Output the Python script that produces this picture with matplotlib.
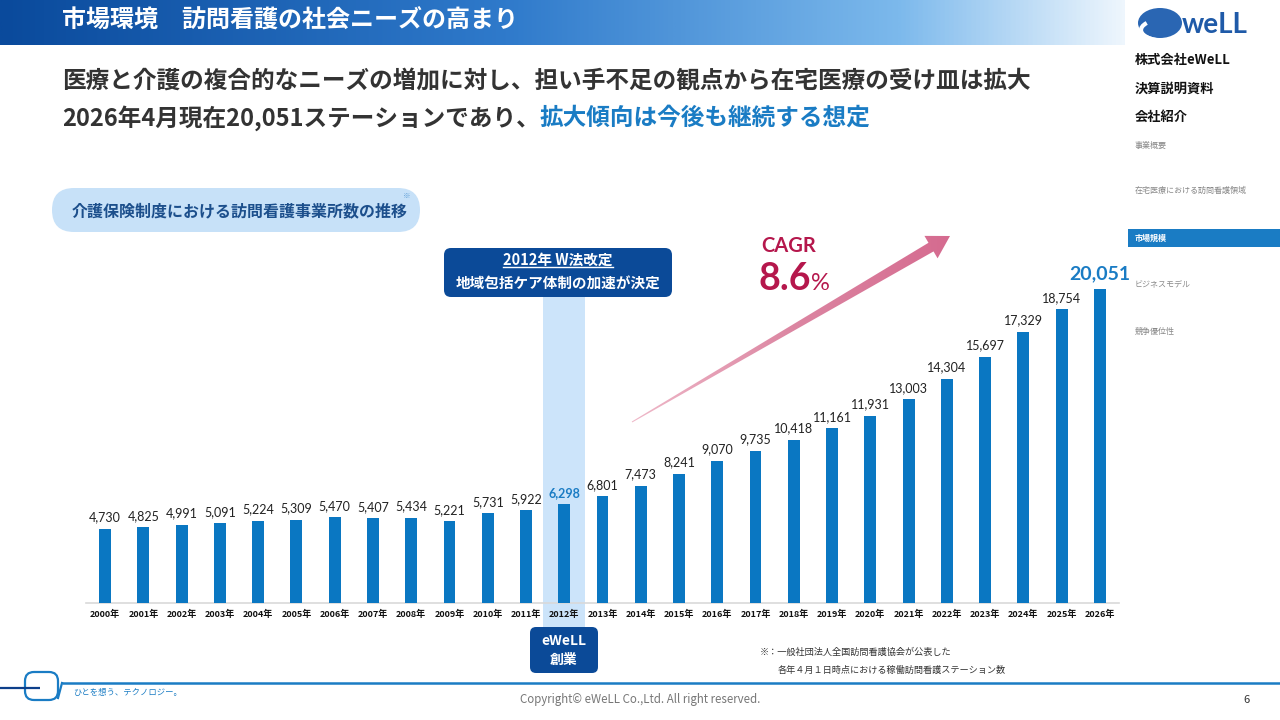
import matplotlib
matplotlib.use('Agg')
import matplotlib.pyplot as plt
import numpy as np
from matplotlib.patches import FancyBboxPatch, Rectangle, Polygon, Ellipse, Arc
from matplotlib.colors import LinearSegmentedColormap

plt.rcParams['font.family'] = ['Noto Sans CJK JP', 'DejaVu Sans']

# ---------------- data ----------------
years = ['2000年', '2001年', '2002年', '2003年', '2004年', '2005年', '2006年',
         '2007年', '2008年', '2009年', '2010年', '2011年', '2012年', '2013年',
         '2014年', '2015年', '2016年', '2017年', '2018年', '2019年', '2020年',
         '2021年', '2022年', '2023年', '2024年', '2025年', '2026年']
stations = [4730, 4825, 4991, 5091, 5224, 5309, 5470, 5407, 5434, 5221, 5731,
            5922, 6298, 6801, 7473, 8241, 9070, 9735, 10418, 11161, 11931,
            13003, 14304, 15697, 17329, 18754, 20051]
highlight_year = '2012年'
latest_year = '2026年'

title = '市場環境　訪問看護の社会ニーズの高まり'
sub1 = '医療と介護の複合的なニーズの増加に対し、担い手不足の観点から在宅医療の受け皿は拡大'
sub2a = '2026年4月現在20,051ステーションであり、'
sub2b = '拡大傾向は今後も継続する想定'
pill_text = '介護保険制度における訪問看護事業所数の推移'
event_l1 = '2012年 W法改定'
event_l2 = '地域包括ケア体制の加速が決定'
found_l1 = 'eWeLL'
found_l2 = '創業'
cagr_label = 'CAGR'
cagr_value = '8.6'
note1 = '※：一般社団法人全国訪問看護協会が公表した'
note2 = '各年４月１日時点における稼働訪問看護ステーション数'
side_main = ['株式会社eWeLL', '決算説明資料', '会社紹介']
side_items = ['事業概要', '在宅医療における訪問看護領域', '市場規模', 'ビジネスモデル', '競争優位性']
side_active = '市場規模'
copyright_text = 'Copyright© eWeLL Co.,Ltd. All right reserved.'
slogan = 'ひとを想う、テクノロジー。'
page_no = '6'

BLUE = '#0a77c2'
LBLUE = '#1a7cc4'
NAVY = '#0b4a98'
CRIMSON = '#b5174c'

fig = plt.figure(figsize=(12.8, 7.2), dpi=100)
fig.patch.set_facecolor('white')
renderer = fig.canvas.get_renderer()

# background overlay in pixel coordinates
bg = fig.add_axes([0, 0, 1, 1], zorder=0)
bg.axis('off')

cmap_h = LinearSegmentedColormap.from_list(
    'h', [(0, '#0a4a9c'), (0.45, '#2f7acb'), (0.8, '#7cb9ec'), (1, '#eef6fd')])
grad = np.linspace(0, 1, 512).reshape(1, -1)
bg.imshow(grad, extent=(0, 1125, 45, 0), cmap=cmap_h, aspect='auto', zorder=1)
bg.set_xlim(0, 1280)
bg.set_ylim(720, 0)

bg.text(62, 21, title, color='white', fontsize=17.3, fontweight='bold',
        va='center', ha='left', zorder=2)
bg.text(62, 80, sub1, color='#333333', fontsize=17, fontweight='bold',
        va='center', ha='left')
t1 = bg.text(62, 118, sub2a, color='#333333', fontsize=17, fontweight='bold',
             va='center', ha='left')
bb = t1.get_window_extent(renderer)
x_end = bg.transData.inverted().transform((bb.x1, bb.y0))[0]
bg.text(x_end, 118, sub2b, color=LBLUE, fontsize=17, fontweight='bold',
        va='center', ha='left')

# pill
bg.add_patch(FancyBboxPatch((52, 188), 368, 44,
                            boxstyle='round,pad=0,rounding_size=22',
                            fc='#c7e1f8', ec='none'))
bg.text(72, 211, pill_text, color='#1c4f8c', fontsize=11.5, fontweight='bold',
        va='center', ha='left')
bg.text(407, 196, '※', color='#5a9bd5', fontsize=5.5, va='center', ha='center')

# ---------------- chart ----------------
ax = fig.add_axes([86 / 1280, 117 / 720, 1033 / 1280, 345 / 720], zorder=2)
ax.patch.set_visible(False)
x = np.arange(len(years))
ax.bar(x, stations, width=0.31, color=BLUE, zorder=3)
ax.set_xlim(-0.5, len(years) - 0.5)
ax.set_ylim(0, 22030)
ax.set_xticks(x, years, fontsize=6.5, fontweight='bold', color='#111111')
ax.tick_params(axis='x', length=0, pad=5)
ax.set_yticks([])
for s in ['left', 'top', 'right']:
    ax.spines[s].set_visible(False)
ax.spines['bottom'].set_color('#d9d9d9')
ax.spines['bottom'].set_linewidth(1.2)

hi = years.index(highlight_year)
ax.add_patch(Rectangle((hi - 0.55, -1850), 1.1, 19700 + 1850, fc='#cce4fa',
                       ec='none', zorder=0, clip_on=False))

for i, (yr, v) in enumerate(zip(years, stations)):
    if yr == latest_year:
        kw = dict(fontsize=14, fontweight='bold', color=LBLUE)
        off = 5
    elif yr == highlight_year:
        kw = dict(fontsize=9, fontweight='bold', color=LBLUE)
        off = 4
    else:
        kw = dict(fontsize=9, color='#222222')
        off = 4
    ax.annotate(f'{v:,}', (i, v), xytext=(0, off), textcoords='offset points',
                ha='center', va='bottom', family=['Lato', 'DejaVu Sans'], **kw)

# ---------------- foreground overlay ----------------
fg = fig.add_axes([0, 0, 1, 1], zorder=5)
fg.patch.set_visible(False)
fg.axis('off')
fg.set_xlim(0, 1280)
fg.set_ylim(720, 0)

# 2012 event box
fg.add_patch(FancyBboxPatch((444, 248), 228, 49,
                            boxstyle='round,pad=0,rounding_size=7',
                            fc=NAVY, ec='none'))
e1 = fg.text(558, 260, event_l1, color='white', fontsize=10.5, fontweight='bold',
             ha='center', va='center')
fg.text(558, 284, event_l2, color='white', fontsize=10.5, fontweight='bold',
        ha='center', va='center')

# founding box
fg.add_patch(FancyBboxPatch((530, 627), 68, 46,
                            boxstyle='round,pad=0,rounding_size=6',
                            fc=NAVY, ec='none'))
fg.text(564, 641, found_l1, color='white', fontsize=10, fontweight='bold',
        ha='center', va='center')
fg.text(564, 660, found_l2, color='white', fontsize=10, fontweight='bold',
        ha='center', va='center')

# CAGR arrow (tapered, gradient)
tail = np.array([632.0, 422.0])
tip = np.array([950.0, 236.0])
d = tip - tail
u = d / np.linalg.norm(d)
n = np.array([-u[1], u[0]])
if n[1] < 0:
    n = -n
base = tip - 22 * u
pts = [tail + 0.5 * n, base + 5 * n, base + 13 * n, tip,
       base - 13 * n, base - 5 * n, tail - 0.5 * n]
poly = Polygon(pts, closed=True, fc='none', ec='none')
fg.add_patch(poly)
cmap_a = LinearSegmentedColormap.from_list('a', ['#efb9c9', '#dc86a2', '#d56a8f'])
im = fg.imshow(np.linspace(0, 1, 256).reshape(1, -1), extent=(630, 955, 425, 230),
               cmap=cmap_a, aspect='auto', zorder=3)
im.set_clip_path(poly)
fg.set_xlim(0, 1280)
fg.set_ylim(720, 0)

fg.text(761, 246, cagr_label, color=CRIMSON, fontsize=14.5, fontweight='bold',
        family=['Lato', 'DejaVu Sans'], ha='left', va='center')
tv = fg.text(759, 290, cagr_value, color=CRIMSON, fontsize=27, fontweight='bold',
             family=['Lato', 'DejaVu Sans'], ha='left', va='baseline')
bbv = tv.get_window_extent(renderer)
xv = fg.transData.inverted().transform((bbv.x1, bbv.y0))[0]
fg.text(xv, 290, '%', color=CRIMSON, fontsize=17,
        family=['Lato', 'DejaVu Sans'], ha='left', va='baseline')

# footnote
fg.text(760, 652, note1, color='#333333', fontsize=6.6, ha='left', va='center')
fg.text(778, 670, note2, color='#333333', fontsize=6.6, ha='left', va='center')

# sidebar
fg.add_patch(Ellipse((1160, 23), 44, 30, fc='#2a66b3', ec='none'))
fg.add_patch(Arc((1166, 30), 50, 22, theta1=20, theta2=200, color='white', lw=3))
fg.text(1182, 25, 'weLL', color='#1f5aa8', fontsize=20, fontweight='bold',
        family=['Lato', 'DejaVu Sans'], ha='left', va='center')
for txt, yy in zip(side_main, [60, 89, 117]):
    fg.text(1135, yy, txt, color='#111111', fontsize=9.5, fontweight='bold',
            ha='left', va='center')
for txt, yy in zip(side_items, [145, 190, 238, 285, 331]):
    if txt == side_active:
        fg.add_patch(Rectangle((1128, 229), 152, 18, fc=LBLUE, ec='none'))
        fg.text(1135, yy, txt, color='white', fontsize=5.8, fontweight='bold',
                ha='left', va='center')
    else:
        fg.text(1135, yy, txt, color='#888888', fontsize=5.8,
                ha='left', va='center')

# footer
fg.plot([0, 40], [688, 688], color='#0d3f8a', lw=1.6, solid_capstyle='butt')
fg.add_patch(FancyBboxPatch((25, 672), 33, 28, boxstyle='round,pad=0,rounding_size=9',
                            fc='none', ec='#1a7cc4', lw=1.6))
fg.plot([62, 1280], [683, 683], color='#1a7cc4', lw=1.8, solid_capstyle='butt')
fg.plot([58, 62], [698, 683], color='#1a7cc4', lw=1.6)
fg.text(73, 692, slogan, color='#1a7cc4', fontsize=6, ha='left', va='center')
fg.text(640, 700, copyright_text, color='#777777', fontsize=8.3, ha='center',
        va='center')
fg.text(1247, 700, page_no, color='#333333', fontsize=8, ha='center', va='center')

fg.set_xlim(0, 1280)
fg.set_ylim(720, 0)

# underline for event line 1
bbe = e1.get_window_extent(renderer)
p0 = fg.transData.inverted().transform((bbe.x0, bbe.y0))
p1 = fg.transData.inverted().transform((bbe.x1, bbe.y0))
fg.plot([p0[0], p1[0]], [p0[1] - 1, p1[1] - 1], color='white', lw=1)

fig.savefig('out.png', dpi=100)
